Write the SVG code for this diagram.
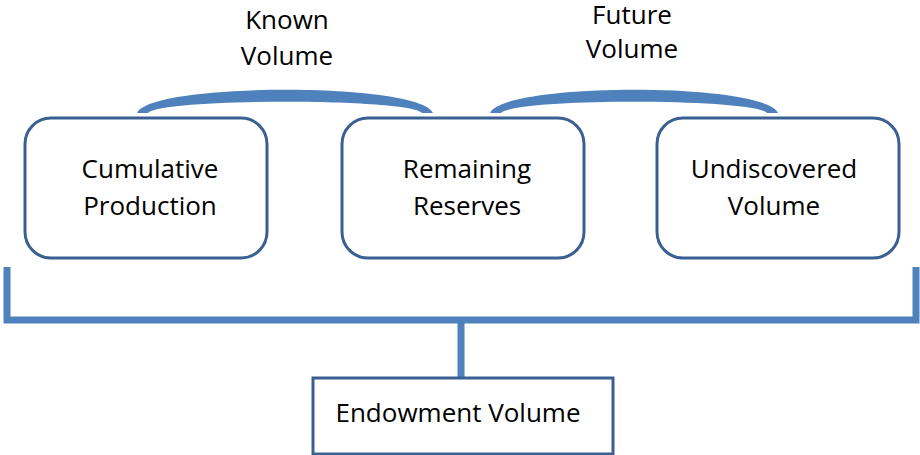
<svg xmlns="http://www.w3.org/2000/svg" width="920" height="455" viewBox="0 0 920 455">
<style>
.box{fill:#fff;stroke:#3A6091;stroke-width:3}
.arc{fill:#4F81BD}
.con{fill:none;stroke:#4F81BD;stroke-width:7}
text{font-family:"Open Sans","Liberation Sans",sans-serif;font-size:26px;fill:#000;text-anchor:middle}
</style>
<rect width="920" height="455" fill="#fff"/>
<g id="connectors">
<path class="con" d="M7,267 V320 H916 V267"/>
<path class="con" d="M461,320 V377"/>
<path class="arc" d="M137,113 C150,82 420,82 433,113 L422,113 C410,98 160,98 148,113 Z"/>
<path class="arc" d="M490,113 C503,82 765,82 778,113 L767,113 C755,98 513,98 501,113 Z"/>
</g>
<g id="label-known">
<text x="287" y="29">Known</text>
<text x="287" y="65">Volume</text>
</g>
<g id="label-future">
<text x="632" y="24">Future</text>
<text x="632" y="58">Volume</text>
</g>
<g id="node-cumulative">
<rect class="box" x="25" y="118" width="242" height="140" rx="26"/>
<text x="150" y="178">Cumulative</text>
<text x="150" y="215">Production</text>
</g>
<g id="node-remaining">
<rect class="box" x="342" y="118" width="242" height="140" rx="26"/>
<text x="467" y="178">Remaining</text>
<text x="467" y="215">Reserves</text>
</g>
<g id="node-undiscovered">
<rect class="box" x="657" y="118" width="242" height="140" rx="26"/>
<text x="774" y="178">Undiscovered</text>
<text x="774" y="215">Volume</text>
</g>
<g id="node-endowment">
<rect class="box" x="313" y="378" width="300" height="76"/>
<text x="458" y="422">Endowment Volume</text>
</g>
</svg>
